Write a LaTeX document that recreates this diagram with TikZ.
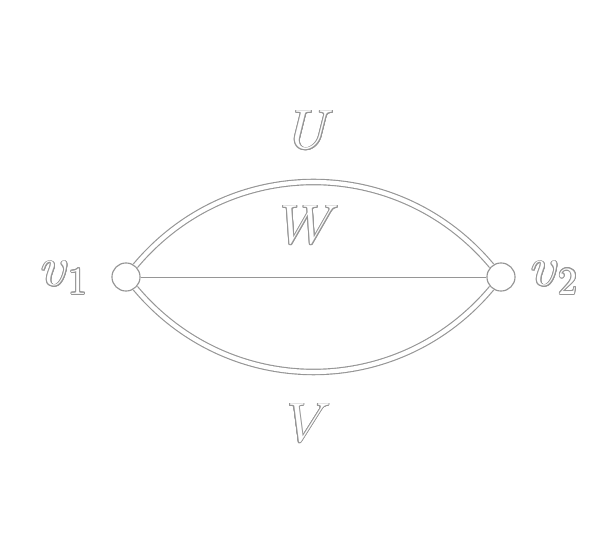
\documentclass[tikz,border=0pt]{standalone}
\usepackage{amsmath}
\usepackage{contour}
\contourlength{0.22pt}
\definecolor{rim}{RGB}{150,150,150}
\newcommand{\rimtext}[1]{{\color{white}\contour{rim}{#1}}}

\begin{document}
\begin{tikzpicture}[x=0.26pt,y=0.26pt,yscale=-1,xscale=1,
  vertex/.style={circle,draw=rim,fill=white,line width=0.3pt,minimum size=7.3pt,inner sep=0pt},
  arcline/.style={draw=rim,double=white,line width=0.3pt,double distance=1.1pt},
  lbl/.style={anchor=base,inner sep=0pt,font=\Large}]
\path[use as bounding box] (0,0) rectangle (608,553);

%Shape: Circle
\node[vertex] (v1) at (126,277) {};
%Shape: Circle
\node[vertex] (v2) at (501,277) {};

%Straight Lines
\draw[rim,line width=0.25pt] (v1) -- (v2);
%Curve Lines
\draw[arcline] (v1) to[bend left=50,looseness=1.05] (v2);
%Curve Lines
\draw[arcline] (v1) to[bend right=50,looseness=1.05] (v2);

% Text Node
\node[lbl] (lU) at (313,149) {\rimtext{$U$}};
% Text Node
\node[lbl] (lW) at (310,244) {\rimtext{$W$}};
% Text Node
\node[lbl] (lV) at (309,442) {\rimtext{$V$}};
% Text Node
\node[lbl,anchor=base west] (lv1) at (41,286) {\rimtext{$v_1$}};
% Text Node
\node[lbl,anchor=base west] (lv2) at (531,286) {\rimtext{$v_2$}};

\end{tikzpicture}
\end{document}
